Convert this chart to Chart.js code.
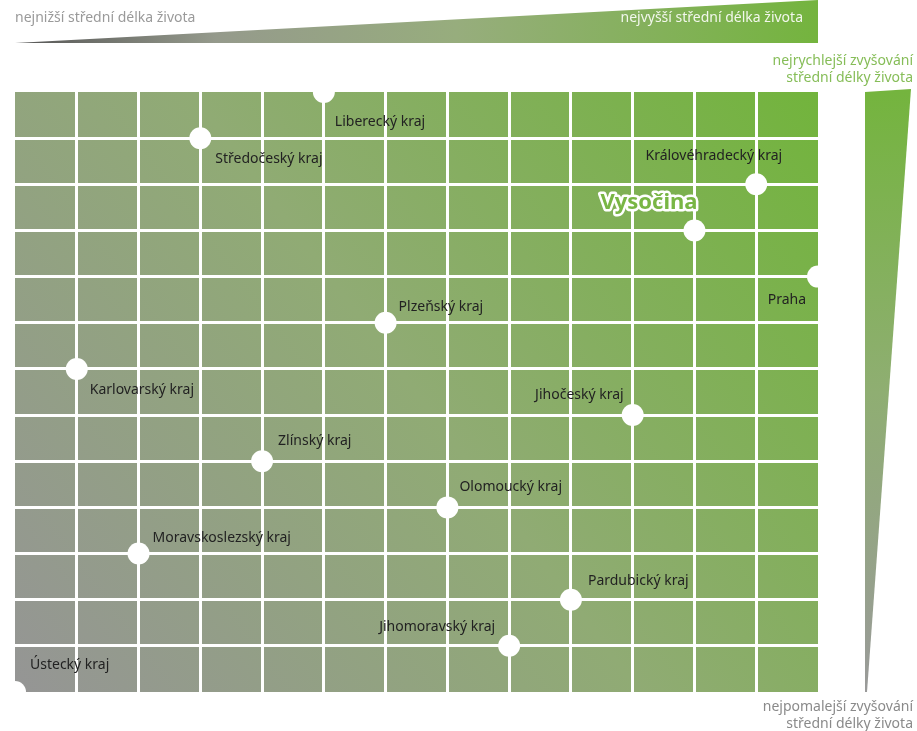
<!DOCTYPE html>
<html lang="cs">
<head>
    <meta charset="UTF-8">
    <title>Střední délka života – kraje</title>
    <script src="https://cdn.jsdelivr.net/npm/chart.js"></script>
    <style>
        html, body { margin: 0; padding: 0; background: #fff; }
        #wrap { position: relative; width: 917px; height: 731px; }
    </style>
</head>
<body>
    <div id="wrap">
        <canvas id="lifeChart" width="917" height="731"></canvas>
    </div>

    <script>
        // data: regions, rank in life expectancy (x) and rank in its growth (y)
        const regions = ['Liberecký kraj', 'Středočeský kraj', 'Královéhradecký kraj', 'Vysočina', 'Praha',
            'Plzeňský kraj', 'Karlovarský kraj', 'Jihočeský kraj', 'Zlínský kraj', 'Olomoucký kraj',
            'Moravskoslezský kraj', 'Pardubický kraj', 'Jihomoravský kraj', 'Ústecký kraj'];
        const levelRank = [5, 3, 12, 11, 13, 6, 1, 10, 4, 7, 2, 9, 8, 0];
        const growthRank = [13, 12, 11, 10, 9, 8, 7, 6, 5, 4, 3, 2, 1, 0];
        const axisMax = 13;

        // label placement: [dx, dy, align]
        const labelPlace = [
            [11, 30, 'left'], [15, 21, 'left'], [26, -28, 'right'], [3, -28, 'right'], [-12, 23, 'right'],
            [13, -16, 'left'], [13, 21, 'left'], [-9, -20, 'right'], [16, -20, 'left'], [12, -20, 'left'],
            [14, -16, 'left'], [17, -19, 'left'], [-14, -19, 'right'], [15, -27, 'left']
        ];
        const highlight = 'Vysočina';

        const points = regions.map((r, i) => ({ x: levelRank[i], y: growthRank[i] }));

        const edgeless = ctx => (ctx.tick && (ctx.tick.value === 0 || ctx.tick.value === axisMax)) ? 'rgba(0,0,0,0)' : '#ffffff';

        const decor = {
            id: 'decor',
            beforeDraw(chart) {
                const c = chart.ctx, a = chart.chartArea;
                c.save();
                const g = c.createLinearGradient(a.left, a.bottom, a.right, a.top);
                g.addColorStop(0, '#959595');
                g.addColorStop(0.5, '#90ab74');
                g.addColorStop(1, '#72b43c');
                c.fillStyle = g;
                c.fillRect(a.left, a.top, a.right - a.left, a.bottom - a.top);

                // top wedge
                const tg = c.createLinearGradient(a.left, 0, a.right, 0);
                tg.addColorStop(0, '#555555');
                tg.addColorStop(0.25, '#959a8c');
                tg.addColorStop(0.55, '#97ad7d');
                tg.addColorStop(1, '#74b43e');
                c.fillStyle = tg;
                c.beginPath();
                c.moveTo(a.left, 43);
                c.lineTo(a.right, 0);
                c.lineTo(a.right, 43);
                c.closePath();
                c.fill();

                // right wedge
                const rg = c.createLinearGradient(0, a.top, 0, a.bottom);
                rg.addColorStop(0, '#74b43e');
                rg.addColorStop(0.5, '#8fae72');
                rg.addColorStop(1, '#9a9a9a');
                c.fillStyle = rg;
                c.beginPath();
                c.moveTo(865, a.top);
                c.lineTo(911, a.top - 3);
                c.lineTo(867, a.bottom);
                c.lineTo(865, a.bottom);
                c.closePath();
                c.fill();

                c.font = '14px "Noto Sans"';
                c.textBaseline = 'middle';
                c.textAlign = 'left';
                c.fillStyle = '#9a9a9a';
                c.fillText('nejnižší střední délka života', 15, 18);
                c.textAlign = 'right';
                c.fillStyle = '#f2f7ec';
                c.fillText('nejvyšší střední délka života', 803, 18);
                c.fillStyle = '#86bd58';
                c.fillText('nejrychlejší zvyšování', 913, 61);
                c.fillText('střední délky života', 913, 78);
                c.fillStyle = '#8a8a8a';
                c.fillText('nejpomalejší zvyšování', 913, 707);
                c.fillText('střední délky života', 913, 724);
                c.restore();
            },
            afterDatasetsDraw(chart) {
                const c = chart.ctx;
                const meta = chart.getDatasetMeta(0);
                c.save();
                c.textBaseline = 'middle';
                meta.data.forEach((el, i) => {
                    const p = labelPlace[i];
                    const x = el.x + p[0], y = el.y + p[1];
                    c.textAlign = p[2];
                    if (regions[i] === highlight) {
                        c.font = 'bold 22px "Noto Sans"';
                        c.lineJoin = 'round';
                        c.lineWidth = 5;
                        c.strokeStyle = '#ffffff';
                        c.strokeText(regions[i], x, y);
                        c.fillStyle = '#79b645';
                        c.fillText(regions[i], x, y);
                    } else {
                        c.font = '14px "Noto Sans"';
                        c.fillStyle = '#222222';
                        c.fillText(regions[i], x, y);
                    }
                });
                c.restore();
            }
        };

        new Chart(document.getElementById('lifeChart'), {
            type: 'scatter',
            data: {
                datasets: [{
                    data: points,
                    pointRadius: 11,
                    pointHoverRadius: 11,
                    pointBackgroundColor: '#ffffff',
                    pointBorderWidth: 0,
                    clip: 0
                }]
            },
            options: {
                responsive: false,
                animation: false,
                layout: { padding: { left: 15, right: 99, top: 92, bottom: 39 } },
                plugins: { legend: { display: false }, tooltip: { enabled: false } },
                scales: {
                    x: {
                        min: 0, max: axisMax,
                        ticks: { display: false, stepSize: 1 },
                        grid: { color: edgeless, lineWidth: 3, drawTicks: false },
                        border: { display: false }
                    },
                    y: {
                        min: 0, max: axisMax,
                        ticks: { display: false, stepSize: 1 },
                        grid: { color: edgeless, lineWidth: 3, drawTicks: false },
                        border: { display: false }
                    }
                }
            },
            plugins: [decor]
        });
    </script>
</body>
</html>
